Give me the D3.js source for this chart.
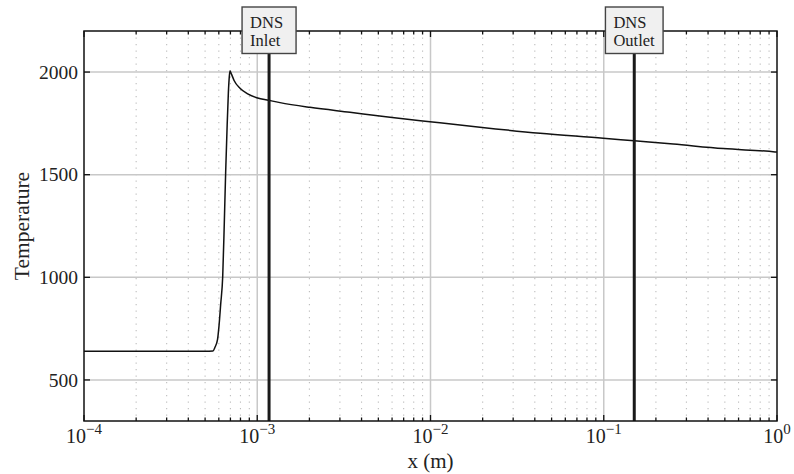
<!DOCTYPE html>
<html><head><meta charset="utf-8">
<script src="https://cdn.jsdelivr.net/npm/d3@7"></script>
<style>
html,body{margin:0;padding:0;background:#fff;}
svg{display:block;font-family:"Liberation Serif","DejaVu Serif",serif;}
</style></head>
<body>
<svg id="chart" width="794" height="474"></svg>
<script>
// ---- data ----
const xPos = [1e-4, 2e-4, 3e-4, 4e-4, 5e-4, 5.55e-4, 5.70e-4, 5.90e-4, 6.01e-4, 6.15e-4, 6.32e-4, 6.45e-4, 6.57e-4, 6.69e-4, 6.81e-4, 6.90e-4, 6.96e-4, 7.10e-4, 7.35e-4, 7.95e-4, 8.75e-4, 9.93e-4, 1.185e-3, 1.353e-3, 2.015e-3, 3.43e-3, 5.84e-3, 9.93e-3, 0.0193, 0.0429, 0.0994, 0.150, 0.252, 0.49, 0.974, 1.0];
const temperature = [640, 640, 640, 640, 640, 641, 659, 698, 760, 868, 1005, 1258, 1508, 1718, 1896, 1980, 2005, 1990, 1959, 1921, 1895, 1875, 1861, 1851, 1828, 1804, 1780, 1758, 1731, 1702, 1678, 1665, 1649, 1627, 1611, 1610];
const dnsPositions = [0.00117, 0.15];
const dnsLabels = [["DNS", "Inlet"], ["DNS", "Outlet"]];
const yTickValues = [500, 1000, 1500, 2000];
const xMajorTicks = [1e-4, 1e-3, 1e-2, 1e-1, 1];
const xTickExponents = ["\u22124", "\u22123", "\u22122", "\u22121", "0"];
const xDomain = [1e-4, 1];
const yDomain = [300, 2200];

// ---- layout ----
const L = 84, R = 777, T = 31, B = 421;
const svg = d3.select("#chart");
const x = d3.scaleLog().domain(xDomain).range([L, R]);
const y = d3.scaleLinear().domain(yDomain).range([B, T]);

// minor x values
const xMinor = [];
for (let e = -4; e < 0; e++) for (let m = 2; m <= 9; m++) xMinor.push(m * Math.pow(10, e));

// minor dotted grid
svg.append("g").selectAll("line").data(xMinor).join("line")
  .attr("x1", d => x(d)).attr("x2", d => x(d))
  .attr("y1", T).attr("y2", B)
  .attr("stroke", "#bdbdbd").attr("stroke-width", 1.1)
  .attr("stroke-dasharray", "1.2,5.3");

// major grid
svg.append("g").selectAll("line").data(xMajorTicks.slice(1, -1)).join("line")
  .attr("x1", d => x(d)).attr("x2", d => x(d))
  .attr("y1", T).attr("y2", B)
  .attr("stroke", "#c8c8c8").attr("stroke-width", 1.5);
svg.append("g").selectAll("line").data(yTickValues).join("line")
  .attr("x1", L).attr("x2", R)
  .attr("y1", d => y(d)).attr("y2", d => y(d))
  .attr("stroke", "#c8c8c8").attr("stroke-width", 1.5);

// curve
const line = d3.line().x(d => x(d[0])).y(d => y(d[1])).curve(d3.curveMonotoneX);
svg.append("path").datum(xPos.map((v, i) => [v, temperature[i]]))
  .attr("d", line).attr("fill", "none")
  .attr("stroke", "#111").attr("stroke-width", 1.5);

// DNS lines
svg.append("g").selectAll("line").data(dnsPositions).join("line")
  .attr("x1", d => x(d)).attr("x2", d => x(d))
  .attr("y1", T).attr("y2", B)
  .attr("stroke", "#1a1a1a").attr("stroke-width", 3);

// frame
svg.append("rect").attr("x", L).attr("y", T).attr("width", R - L).attr("height", B - T)
  .attr("fill", "none").attr("stroke", "#111").attr("stroke-width", 1.5);

// ticks
const tk = svg.append("g").attr("stroke", "#111").attr("stroke-width", 1.3);
yTickValues.forEach(v => {
  tk.append("line").attr("x1", L).attr("x2", L + 6).attr("y1", y(v)).attr("y2", y(v));
  tk.append("line").attr("x1", R).attr("x2", R - 6).attr("y1", y(v)).attr("y2", y(v));
});
xMinor.forEach(v => {
  tk.append("line").attr("x1", x(v)).attr("x2", x(v)).attr("y1", B).attr("y2", B - 3.5);
  tk.append("line").attr("x1", x(v)).attr("x2", x(v)).attr("y1", T).attr("y2", T + 3.5);
});
xMajorTicks.forEach(v => {
  tk.append("line").attr("x1", x(v)).attr("x2", x(v)).attr("y1", B).attr("y2", B - 6);
  tk.append("line").attr("x1", x(v)).attr("x2", x(v)).attr("y1", T).attr("y2", T + 6);
});

// y tick labels
svg.append("g").selectAll("text").data(yTickValues).join("text")
  .attr("x", L - 6).attr("y", d => y(d)).attr("dy", "0.34em")
  .attr("text-anchor", "end").attr("font-size", 19.5).attr("fill", "#222")
  .text(d => d);

// x tick labels
xMajorTicks.forEach((v, i) => {
  const t = svg.append("text").attr("x", x(v)).attr("y", 443)
    .attr("text-anchor", "middle").attr("font-size", 20).attr("fill", "#222");
  t.append("tspan").text("10");
  t.append("tspan").attr("dy", -9).attr("font-size", 15).text(xTickExponents[i]);
});

// axis labels
svg.append("text").attr("x", (L + R) / 2).attr("y", 468)
  .attr("text-anchor", "middle").attr("font-size", 21).attr("fill", "#222").text("x (m)");
svg.append("text").attr("transform", `translate(29,${(T + B) / 2}) rotate(-90)`)
  .attr("text-anchor", "middle").attr("font-size", 21.5).attr("fill", "#222").text("Temperature");

// DNS boxes
dnsPositions.forEach((p, i) => {
  const g = svg.append("g");
  const rect = g.append("rect");
  const txt = g.append("text").attr("font-size", 16.5).attr("fill", "#222");
  dnsLabels[i].forEach((s, j) => {
    txt.append("tspan").attr("x", 0).attr("y", 27.5 + j * 18.5).text(s);
  });
  const bb = txt.node().getBBox();
  const w = Math.max(54, bb.width + 16);
  const cx = x(p);
  txt.attr("transform", `translate(${cx - w / 2 + 8},0)`);
  rect.attr("x", cx - w / 2).attr("y", 7).attr("width", w).attr("height", 46.5)
    .attr("fill", "#f0f0f0").attr("stroke", "#444").attr("stroke-width", 1.4);
});
</script>
</body></html>
